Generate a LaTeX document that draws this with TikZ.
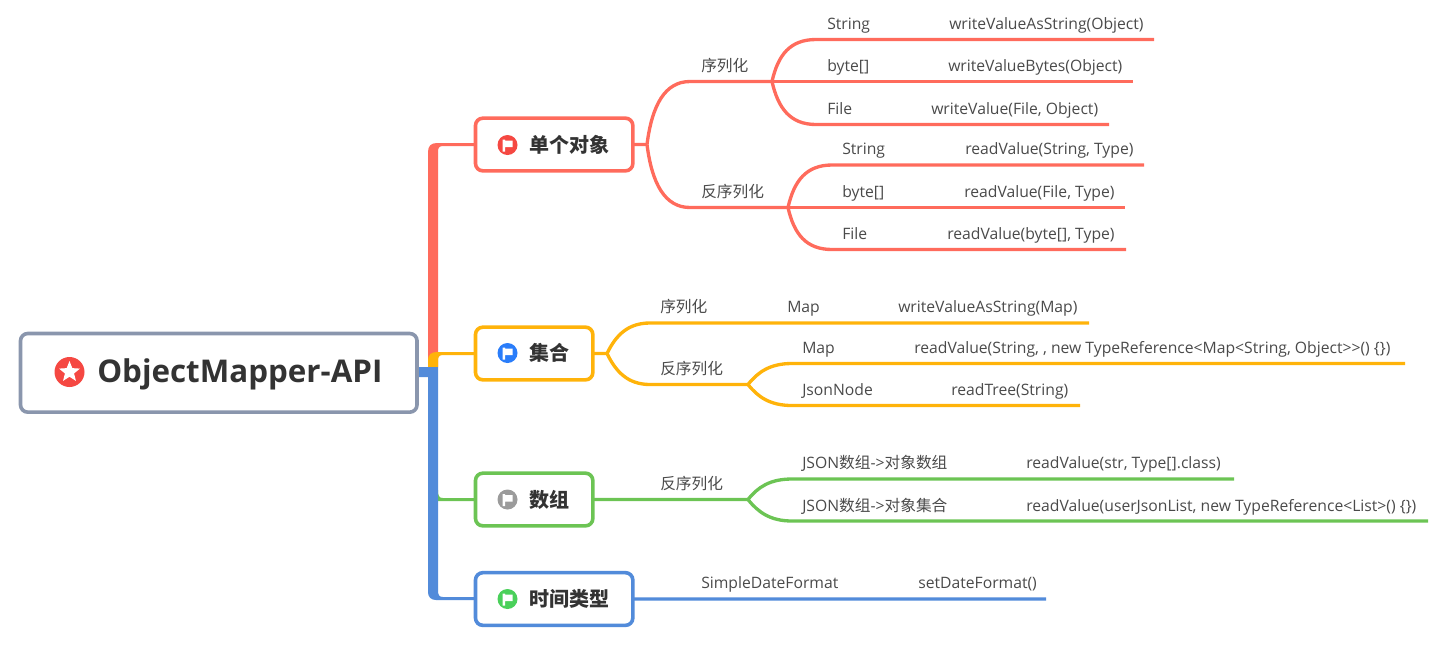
\documentclass[tikz,border=0pt]{standalone}
\usepackage{fontspec}
\usetikzlibrary{calc,shapes.geometric}
\setmainfont{Open Sans}
\newfontfamily\cjkf{Noto Sans CJK SC}
\newcommand{\zh}[1]{{\cjkf #1}}
\definecolor{cred}{HTML}{FF6B5C}
\definecolor{cyel}{HTML}{FFB30A}
\definecolor{cgrn}{HTML}{6CC454}
\definecolor{cblu}{HTML}{528BDA}
\definecolor{cgry}{HTML}{8A96AD}
\definecolor{ctxt}{HTML}{333333}
\definecolor{cleaf}{HTML}{4A4A4A}
\definecolor{icred}{HTML}{F54842}
\definecolor{icblu}{HTML}{2A7DFA}
\definecolor{icgry}{HTML}{9B9B9B}
\definecolor{icgrn}{HTML}{4AD05A}
\tikzset{
  x=0.75pt,y=-0.75pt,
  leaf/.style={anchor=base west,inner sep=0pt,text=cleaf,font=\fontsize{11.78}{14}\selectfont},
  topicbox/.style={draw=#1,line width=2.7pt,fill=white,rounded corners=5.5pt,inner sep=0pt,outer sep=0pt,anchor=north west},
  topictext/.style={anchor=west,inner sep=0pt,text=ctxt,font=\fontsize{15}{18}\selectfont\cjkf\bfseries},
  wire/.style={draw=#1,line width=2.5pt,line cap=butt},
  iconbg/.style={circle,fill=#1,minimum size=15pt,inner sep=0pt},
  flagmark/.style={fill=white},
}
\begin{document}
\begin{tikzpicture}
\useasboundingbox (0,0) rectangle (1449,644);
\coordinate (a1) at (647,144.5);
\coordinate (s1) at (690,81.5);
\coordinate (j1) at (772,81.5);
\coordinate (s2) at (690,207.5);
\coordinate (j2) at (788,207.5);
\coordinate (b1) at (607,353.5);
\coordinate (s3) at (650,323);
\coordinate (s4) at (650,384.5);
\coordinate (j3) at (748,384.5);
\coordinate (j4) at (748,499.5);

% trunk
\fill[cgrn] (433,490) -- (438,490) .. controls (438,496) and (439,498) .. (443,498) -- (475,498) -- (475,501) -- (433,501) -- cycle;
\fill[cred] (428,367) -- (428,152) .. controls (428,146) and (431,143) .. (437,143) -- (475,143) -- (475,146) -- (443,146) .. controls (439,146) and (438,148) .. (438,152) -- (438,367) -- cycle;
\fill[cyel] (428,367) -- (428,360) .. controls (428,355) and (431,352) .. (437,352) -- (475,352) -- (475,355) -- (443,355) .. controls (439,355) and (438,357) .. (438,361) -- (438,367) -- cycle;
\fill[cblu] (418,367) -- (438,367) -- (438,590) .. controls (438,595) and (439,597) .. (443,597) -- (475,597) -- (475,600) -- (436,600) .. controls (431,600) and (428,597) .. (428,592) -- (428,377) -- (418,377) -- cycle;

% root
\node[topicbox=cgry,minimum width=297.4pt,minimum height=59pt] (root) at (20.5,333.5) {};
\node[iconbg=icred,minimum size=22.5pt] (rooticon) at (69.5,372) {};
\node[star,star points=5,star point ratio=2.3,fill=white,inner sep=0pt,minimum size=16.5pt] (rootstar) at (69.5,372) {};
\node[anchor=base west,inner sep=0pt,text=ctxt,font=\fontsize{23.5}{26}\selectfont\bfseries] (roottext) at (97,382.5) {ObjectMapper-API};

% topics
\node[topicbox=cred,minimum width=118pt,minimum height=39.5pt] (t1) at (475.5,118.17) {};
\node[topicbox=cyel,minimum width=88pt,minimum height=39.5pt] (t2) at (475.5,327.17) {};
\node[topicbox=cgrn,minimum width=88pt,minimum height=39.5pt] (t3) at (475.5,473.17) {};
\node[topicbox=cblu,minimum width=118pt,minimum height=39.5pt] (t4) at (475.5,572.67) {};

\node[iconbg=icred] (i1) at (507.5,145) {};
\node[iconbg=icblu] (i2) at (507.5,353) {};
\node[iconbg=icgry] (i3) at (507.5,499.5) {};
\node[iconbg=icgrn] (i4) at (507.5,599) {};
\foreach \n in {i1,i2,i3,i4}{
  \fill[flagmark] ($(\n)+(-5,-5.5)$) -- ++(2.5,0) -- ++(0,1) -- ++(7.5,0) -- ++(0,6.5) -- ++(-7.5,0) -- ++(0,4.5) -- ++(-2.5,0) -- cycle;
}
\node[topictext] (l1) at (529,145) {单个对象};
\node[topictext] (l2) at (529,353) {集合};
\node[topictext] (l3) at (529,499.5) {数组};
\node[topictext] (l4) at (529,599) {时间类型};

% wires
\draw[wire=cred] (t1.east) -- (a1);
\draw[wire=cred] (a1) .. controls (652,105) and (665,81.5) .. (s1) -- (j1);
\draw[wire=cred] (a1) .. controls (652,184) and (665,207.5) .. (s2) -- (j2);
\coordinate (e11) at (1154,39.5);
\coordinate (e12) at (1133,81.5);
\coordinate (e13) at (1109,124.5);
\coordinate (e21) at (1144,165);
\coordinate (e22) at (1125,207.5);
\coordinate (e23) at (1126,249.5);
\draw[wire=cred] (j1) .. controls (778,55) and (790,39.5) .. (816,39.5) -- (e11);
\draw[wire=cred] (j1) -- (e12);
\draw[wire=cred] (j1) .. controls (778,108) and (790,124.5) .. (816,124.5) -- (e13);
\draw[wire=cred] (j2) .. controls (794,181) and (806,165) .. (832,165) -- (e21);
\draw[wire=cred] (j2) -- (e22);
\draw[wire=cred] (j2) .. controls (794,234) and (806,249.5) .. (832,249.5) -- (e23);

\coordinate (e31) at (1089,323);
\coordinate (e32) at (1405,363.5);
\coordinate (e33) at (1080,405.5);
\draw[wire=cyel] (t2.east) -- (b1);
\draw[wire=cyel] (b1) .. controls (616,335) and (628,323) .. (s3) -- (e31);
\draw[wire=cyel] (b1) .. controls (616,372) and (628,384.5) .. (s4) -- (j3);
\draw[wire=cyel] (j3) .. controls (758,372) and (770,363.5) .. (792,363.5) -- (e32);
\draw[wire=cyel] (j3) .. controls (758,397) and (770,405.5) .. (792,405.5) -- (e33);

\coordinate (e41) at (1234,479);
\coordinate (e42) at (1428,521);
\draw[wire=cgrn] (t3.east) -- (j4);
\draw[wire=cgrn] (j4) .. controls (758,487) and (770,479) .. (792,479) -- (e41);
\draw[wire=cgrn] (j4) .. controls (758,512) and (770,521) .. (792,521) -- (e42);

\coordinate (e51) at (1046,599);
\draw[wire=cblu] (t4.east) -- (e51);

% labels
\node[leaf] (n01) at (701,71) {\zh{序列化}};
\node[leaf] (n02) at (827,29) {String};
\node[leaf] (n03) at (949,29) {writeValueAsString(Object)};
\node[leaf] (n04) at (827,71) {byte[]};
\node[leaf] (n05) at (948,71) {writeValueBytes(Object)};
\node[leaf] (n06) at (827,114) {File};
\node[leaf] (n07) at (931,114) {writeValue(File, Object)};
\node[leaf] (n08) at (701,197) {\zh{反序列化}};
\node[leaf] (n09) at (842,154) {String};
\node[leaf] (n10) at (965,154) {readValue(String, Type)};
\node[leaf] (n11) at (842,197) {byte[]};
\node[leaf] (n12) at (964,197) {readValue(File, Type)};
\node[leaf] (n13) at (842,239) {File};
\node[leaf] (n14) at (947,239) {readValue(byte[], Type)};
\node[leaf] (n15) at (660,312) {\zh{序列化}};
\node[leaf] (n16) at (787,312) {Map};
\node[leaf] (n17) at (898,312) {writeValueAsString(Map)};
\node[leaf] (n18) at (660,374) {\zh{反序列化}};
\node[leaf] (n19) at (802,353) {Map};
\node[leaf] (n20) at (914,353) {readValue(String, , new TypeReference<Map<String, Object>{}>() \{\})};
\node[leaf] (n21) at (802,395) {JsonNode};
\node[leaf] (n22) at (951,395) {readTree(String)};
\node[leaf] (n23) at (660,489) {\zh{反序列化}};
\node[leaf] (n24) at (802,468.5) {JSON\zh{数组}->\zh{对象数组}};
\node[leaf] (n25) at (1026,468) {readValue(str, Type[].class)};
\node[leaf] (n26) at (802,511) {JSON\zh{数组}->\zh{对象集合}};
\node[leaf] (n27) at (1026,511) {readValue(userJsonList, new TypeReference<List>() \{\})};
\node[leaf] (n28) at (701,588) {SimpleDateFormat};
\node[leaf] (n29) at (918,588) {setDateFormat()};
\end{tikzpicture}
\end{document}
